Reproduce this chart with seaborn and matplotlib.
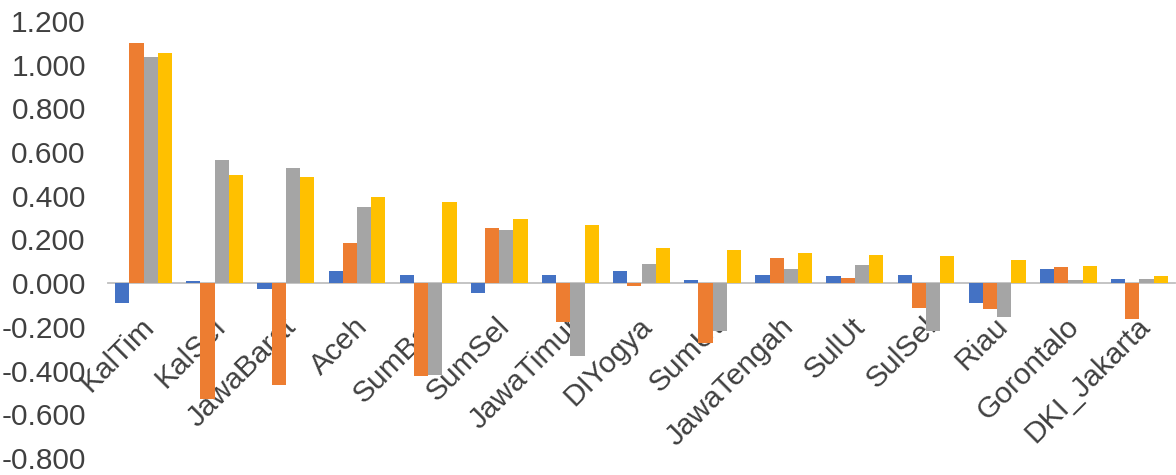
import matplotlib
matplotlib.use("Agg")
import matplotlib.pyplot as plt
import matplotlib.transforms as mtransforms
from matplotlib.ticker import FuncFormatter, MultipleLocator
import seaborn as sns
import pandas as pd

categories = ["KalTim", "KalSel", "JawaBarat", "Aceh", "SumBar", "SumSel", "JawaTimur",
              "DIYogya", "SumUt", "JawaTengah", "SulUt", "SulSel", "Riau", "Gorontalo",
              "DKI_Jakarta"]
series_names = ["Series1", "Series2", "Series3", "Series4"]
s1 = [-0.092, 0.010, -0.026, 0.058, 0.037, -0.047, 0.037, 0.056, 0.014, 0.038, 0.033, 0.037, -0.092, 0.066, 0.021]
s2 = [1.098, -0.530, -0.466, 0.183, -0.423, 0.254, -0.178, -0.011, -0.273, 0.117, 0.023, -0.112, -0.116, 0.075, -0.162]
s3 = [1.034, 0.563, 0.528, 0.349, -0.420, 0.245, -0.332, 0.090, -0.220, 0.065, 0.083, -0.219, -0.153, 0.014, 0.020]
s4 = [1.052, 0.497, 0.485, 0.394, 0.370, 0.292, 0.267, 0.162, 0.151, 0.136, 0.130, 0.124, 0.108, 0.081, 0.035]
colors = ["#4472C4", "#ED7D31", "#A5A5A5", "#FFC000"]

rows = []
for name, vals in zip(series_names, [s1, s2, s3, s4]):
    for c, v in zip(categories, vals):
        rows.append({"category": c, "series": name, "value": v})
df = pd.DataFrame(rows)

sns.set_style("white")
plt.rcParams["font.family"] = ["Liberation Sans", "DejaVu Sans"]
plt.rcParams["axes.unicode_minus"] = False

fig = plt.figure(figsize=(11.76, 4.75), dpi=100)
ax = fig.add_axes([108 / 1176, 1 - 458 / 475, (1175 - 108) / 1176, (458 - 21) / 475])

sns.barplot(data=df, x="category", y="value", hue="series", order=categories,
            hue_order=series_names, palette=colors, width=0.8, linewidth=0,
            saturation=1, ax=ax, legend=False)

ax.set_ylim(-0.8, 1.2)
ax.set_xlim(-0.5, len(categories) - 0.5)
ax.yaxis.set_major_locator(MultipleLocator(0.2))
ax.yaxis.set_major_formatter(FuncFormatter(lambda v, p: f"{v:.3f}"))
ax.set_xlabel("")
ax.set_ylabel("")

for side in ["left", "right", "top"]:
    ax.spines[side].set_visible(False)
ax.spines["bottom"].set_position(("data", 0))
ax.spines["bottom"].set_color("#BFBFBF")
ax.spines["bottom"].set_linewidth(1.3)
ax.spines["bottom"].set_zorder(0.5)

text_color = "#404040"
ax.tick_params(axis="y", length=0, pad=16, labelsize=21.5, labelcolor=text_color)
ax.tick_params(axis="x", length=0, pad=0, labelsize=21.5, labelcolor=text_color)

offset = mtransforms.ScaledTranslation(6 / 100, -39 / 100, fig.dpi_scale_trans)
for lab in ax.get_xticklabels():
    lab.set_rotation(45)
    lab.set_ha("right")
    lab.set_va("center")
    lab.set_rotation_mode("anchor")
    lab.set_transform(lab.get_transform() + offset)

fig.savefig("out.png", dpi=100)
